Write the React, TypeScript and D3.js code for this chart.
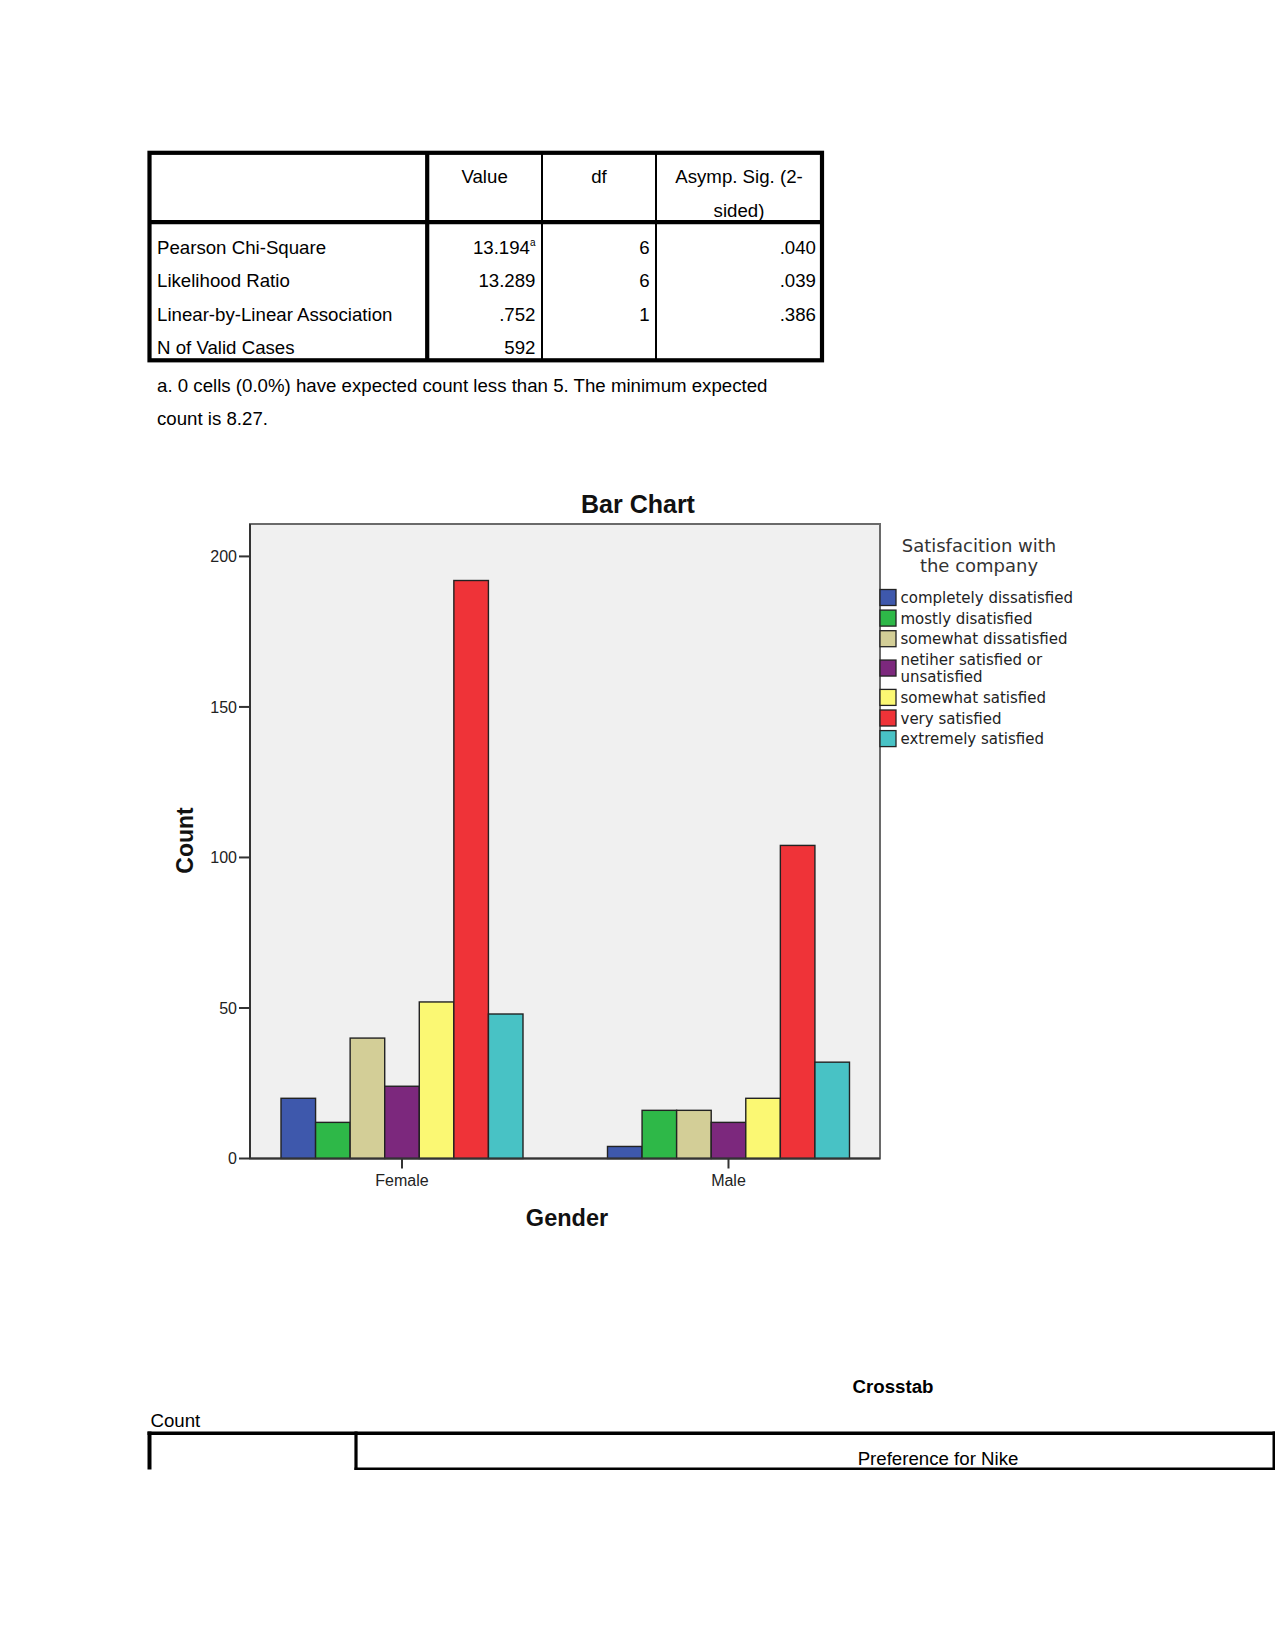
import React, { useEffect } from "react";
import * as d3 from "d3";

// ---------- data ----------
const statLabels = [
  "Pearson Chi-Square",
  "Likelihood Ratio",
  "Linear-by-Linear Association",
  "N of Valid Cases",
];
const statValues = ["13.194", "13.289", ".752", "592"];
const statValueNotes = ["a", "", "", ""];
const statDf = ["6", "6", "1", ""];
const statSig = [".040", ".039", ".386", ""];
const statHeaders = ["Value", "df", "Asymp. Sig. (2-|sided)"];
const footnoteLines = [
  "a. 0 cells (0.0%) have expected count less than 5. The minimum expected",
  "count is 8.27.",
];

const genders = ["Female", "Male"];
const satisfaction = [
  "completely dissatisfied",
  "mostly disatisfied",
  "somewhat dissatisfied",
  "netiher satisfied or unsatisfied",
  "somewhat satisfied",
  "very satisfied",
  "extremely satisfied",
];
const femaleCounts = [20, 12, 40, 24, 52, 192, 48];
const maleCounts = [4, 16, 16, 12, 20, 104, 32];
const satisfactionColors = [
  "#3E58AC",
  "#2EB848",
  "#D3CE97",
  "#7C287D",
  "#FBF873",
  "#EF3338",
  "#48C2C5",
];
const yTicks = [0, 50, 100, 150, 200];

const chartTitle = "Bar Chart";
const xTitle = "Gender";
const yTitle = "Count";
const legendTitle = ["Satisfacition with", "the company"];

const crosstabTitle = "Crosstab";
const crosstabSubtitle = "Count";
const crosstabHeader = "Preference for Nike";

// ---------- helpers ----------
function wrap(s: string, maxChars: number): string[] {
  const words = s.split(" ");
  const lines: string[] = [];
  let cur = "";
  for (const w of words) {
    const t = cur ? cur + " " + w : w;
    if (t.length > maxChars && cur) {
      lines.push(cur);
      cur = w;
    } else cur = t;
  }
  if (cur) lines.push(cur);
  return lines;
}

const TABLE_FONT = "'Liberation Sans', Arial, sans-serif";
const LEGEND_FONT = "'DejaVu Sans', Verdana, sans-serif";

export default function App() {
  useEffect(() => {
    document.body.style.margin = "0";
    document.body.style.overflow = "hidden";
  }, []);

  // ----- stats table geometry -----
  const tL = 149.5,
    tR = 822,
    tT = 152.8,
    tB = 360.3,
    tHead = 222.2;
  const colX = [427.2, 542, 656];
  const rowCenters = [247.7, 280.6, 314, 347.5];
  const fs = 18.67;
  const base = (c: number) => c + 6.6;
  const valueRight = [535.5, 649.6, 816];
  const headerCenters = [(colX[0] + colX[1]) / 2, (colX[1] + colX[2]) / 2, (colX[2] + tR) / 2];

  // ----- chart geometry -----
  const pL = 250,
    pR = 880,
    pT = 524,
    pB = 1158.5;
  const x0 = d3
    .scaleBand<string>()
    .domain(genders)
    .range([pL, pR])
    .paddingInner(0.2588)
    .paddingOuter(0.0942)
    .align(0.504);
  const x1 = d3
    .scaleBand<string>()
    .domain(satisfaction)
    .range([0, x0.bandwidth()])
    .padding(0);
  const y = d3.scaleLinear().domain([0, 211.1]).range([pB, 523]);
  const counts = [femaleCounts, maleCounts];
  const color = d3.scaleOrdinal<string, string>().domain(satisfaction).range(satisfactionColors);

  // legend layout
  const legendLines = satisfaction.map((s) => wrap(s, 24));
  const legendItems: { name: string; lines: string[]; y: number }[] = [];
  let ly = 597.5;
  legendLines.forEach((lines, i) => {
    legendItems.push({ name: satisfaction[i], lines, y: ly });
    ly += 20.6 + (lines.length - 1) * 17.5;
  });

  return (
    <svg
      width={1275}
      height={1651}
      style={{ display: "block", background: "#fff" }}
      xmlns="http://www.w3.org/2000/svg"
    >
      {/* ================= Stats table ================= */}
      <g fontFamily={TABLE_FONT} fontSize={fs} fill="#000">
        {statHeaders.map((h, i) =>
          h.split("|").map((ln, j) => (
            <text
              key={`h${i}${j}`}
              x={headerCenters[i]}
              y={base(176.7 + j * 33.3)}
              textAnchor="middle"
            >
              {ln}
            </text>
          ))
        )}
        {statLabels.map((l, i) => (
          <text key={`l${i}`} x={157} y={base(rowCenters[i])}>
            {l}
          </text>
        ))}
        {statValues.map((v, i) => (
          <text key={`v${i}`} x={valueRight[0]} y={base(rowCenters[i])} textAnchor="end">
            {v}
            {statValueNotes[i] ? (
              <tspan fontSize={10} dy={-8}>
                {statValueNotes[i]}
              </tspan>
            ) : null}
          </text>
        ))}
        {statDf.map((v, i) => (
          <text key={`d${i}`} x={valueRight[1]} y={base(rowCenters[i])} textAnchor="end">
            {v}
          </text>
        ))}
        {statSig.map((v, i) => (
          <text key={`s${i}`} x={valueRight[2]} y={base(rowCenters[i])} textAnchor="end">
            {v}
          </text>
        ))}
        {footnoteLines.map((ln, i) => (
          <text key={`f${i}`} x={157} y={base(385 + i * 33.3)}>
            {ln}
          </text>
        ))}
        <g stroke="#000" fill="none">
          <rect x={tL} y={tT} width={tR - tL} height={tB - tT} strokeWidth={4.2} />
          <line x1={tL} x2={tR} y1={tHead} y2={tHead} strokeWidth={4.2} />
          <line x1={colX[0]} x2={colX[0]} y1={tT} y2={tB} strokeWidth={4.2} />
          <line x1={colX[1]} x2={colX[1]} y1={tT} y2={tB} strokeWidth={2} />
          <line x1={colX[2]} x2={colX[2]} y1={tT} y2={tB} strokeWidth={2} />
        </g>
      </g>

      {/* ================= Bar chart ================= */}
      <g>
        <text
          x={638}
          y={512.8}
          textAnchor="middle"
          fontFamily={TABLE_FONT}
          fontWeight="bold"
          fontSize={25}
          fill="#111"
        >
          {chartTitle}
        </text>
        <rect
          x={pL}
          y={pT}
          width={pR - pL}
          height={pB - pT}
          fill="#F0F0F0"
          stroke="#6a6a6a"
          strokeWidth={2}
        />
        {genders.map((g, gi) => (
          <g key={g} transform={`translate(${x0(g)},0)`}>
            {satisfaction.map((s, si) => (
              <rect
                key={s}
                x={x1(s)}
                y={y(counts[gi][si])}
                width={x1.bandwidth()}
                height={y(0) - y(counts[gi][si])}
                fill={color(s)}
                stroke="#222"
                strokeWidth={1.4}
              />
            ))}
          </g>
        ))}
        <line x1={pL} x2={pL} y1={pT} y2={pB} stroke="#333" strokeWidth={2} />
        <line x1={pL} x2={pR} y1={pB} y2={pB} stroke="#333" strokeWidth={2} />
        {yTicks.map((t) => (
          <g key={t}>
            <line x1={pL - 11} x2={pL} y1={y(t)} y2={y(t)} stroke="#333" strokeWidth={2} />
            <text
              x={pL - 13}
              y={y(t) + 5.7}
              textAnchor="end"
              fontFamily={TABLE_FONT}
              fontSize={16}
              fill="#222"
            >
              {t}
            </text>
          </g>
        ))}
        {genders.map((g) => {
          const cx = (x0(g) as number) + x0.bandwidth() / 2;
          return (
            <g key={g}>
              <line x1={cx} x2={cx} y1={pB} y2={pB + 10} stroke="#333" strokeWidth={2} />
              <text
                x={cx}
                y={1186.3}
                textAnchor="middle"
                fontFamily={TABLE_FONT}
                fontSize={16}
                fill="#222"
              >
                {g}
              </text>
            </g>
          );
        })}
        <text
          x={567}
          y={1226.3}
          textAnchor="middle"
          fontFamily={TABLE_FONT}
          fontWeight="bold"
          fontSize={23.5}
          fill="#111"
        >
          {xTitle}
        </text>
        <text
          transform="translate(192.8,840.5) rotate(-90)"
          textAnchor="middle"
          fontFamily={TABLE_FONT}
          fontWeight="bold"
          fontSize={23}
          fill="#111"
        >
          {yTitle}
        </text>

        {/* legend */}
        <g fontFamily={LEGEND_FONT} fill="#222">
          {legendTitle.map((ln, i) => (
            <text
              key={ln}
              x={979}
              y={551.5 + i * 20.5}
              textAnchor="middle"
              fontSize={18}
              fill="#333"
            >
              {ln}
            </text>
          ))}
          {legendItems.map((it) => {
            const n = it.lines.length;
            const sc = it.y + ((n - 1) * 17.5) / 2;
            return (
              <g key={it.name}>
                <rect
                  x={880}
                  y={sc - 8}
                  width={16}
                  height={16}
                  fill={color(it.name)}
                  stroke="#222"
                  strokeWidth={1.3}
                />
                {it.lines.map((ln, j) => (
                  <text key={j} x={900.5} y={it.y + j * 17.5 + 5.5} fontSize={15}>
                    {ln}
                  </text>
                ))}
              </g>
            );
          })}
        </g>
      </g>

      {/* ================= Crosstab header ================= */}
      <g fontFamily={TABLE_FONT} fontSize={fs} fill="#000">
        <text x={893} y={1393.3} textAnchor="middle" fontWeight="bold">
          {crosstabTitle}
        </text>
        <text x={150.5} y={1426.6}>
          {crosstabSubtitle}
        </text>
        <text x={938} y={1464.6} textAnchor="middle">
          {crosstabHeader}
        </text>
        <g stroke="#000">
          <line x1={147.5} x2={1275} y1={1433.3} y2={1433.3} strokeWidth={3.6} />
          <line x1={149.5} x2={149.5} y1={1431.5} y2={1469.5} strokeWidth={4} />
          <line x1={356} x2={356} y1={1431.5} y2={1470} strokeWidth={3.2} />
          <line x1={354.5} x2={1275} y1={1468.8} y2={1468.8} strokeWidth={2.6} />
          <line x1={1273.8} x2={1273.8} y1={1431.5} y2={1470} strokeWidth={2.6} />
        </g>
      </g>
    </svg>
  );
}
